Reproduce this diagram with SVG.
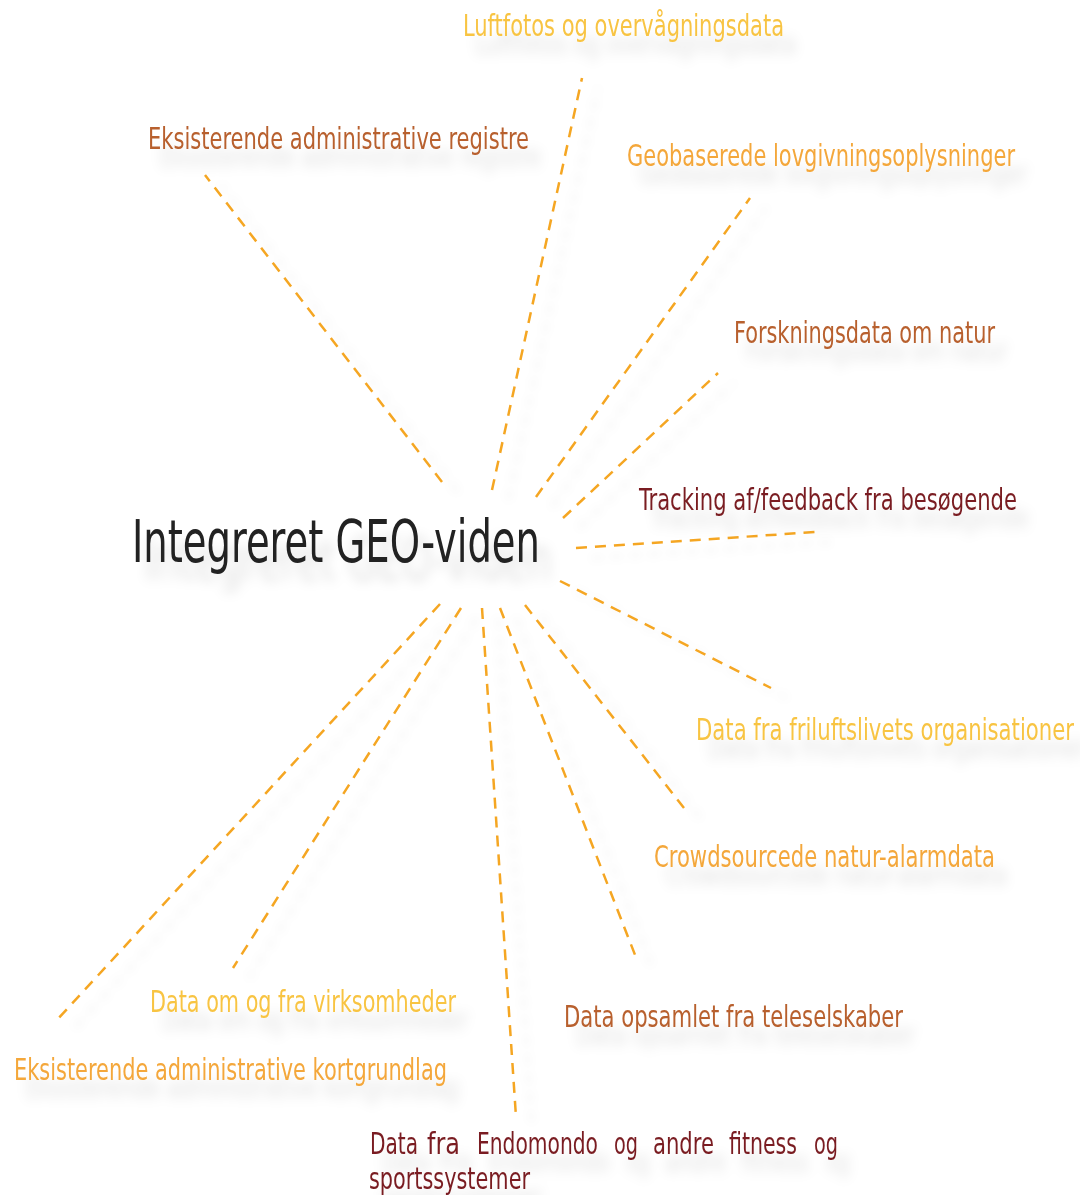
<svg xmlns="http://www.w3.org/2000/svg" width="1080" height="1195" viewBox="0 0 1080 1195">
<defs>
<filter id="sh" x="-20%" y="-50%" width="140%" height="250%">
<feGaussianBlur in="SourceAlpha" stdDeviation="6" result="b"/>
<feOffset in="b" dx="12" dy="18" result="o"/>
<feFlood flood-color="#000" flood-opacity="0.12"/>
<feComposite in2="o" operator="in" result="s"/>
<feMerge><feMergeNode in="s"/><feMergeNode in="SourceGraphic"/></feMerge>
</filter>
<filter id="shl" x="-50%" y="-20%" width="200%" height="140%">
<feGaussianBlur in="SourceAlpha" stdDeviation="5" result="b"/>
<feOffset in="b" dx="16" dy="10" result="o"/>
<feFlood flood-color="#000" flood-opacity="0.07"/>
<feComposite in2="o" operator="in" result="s"/>
<feMerge><feMergeNode in="s"/><feMergeNode in="SourceGraphic"/></feMerge>
</filter>
</defs>
<style>
text{font-family:"Liberation Sans Narrow","DejaVu Sans Condensed","Liberation Sans",sans-serif;font-size:30px}
.y{fill:#F8C443}.o{fill:#F4A73A}.b{fill:#B8602E}.r{fill:#7A1E22}
.c{fill:#222;font-size:58px}
.l line{stroke:#F5A623;stroke-width:2.5;stroke-dasharray:11 8;fill:none}
</style>
<rect width="1080" height="1195" fill="#fff"/>
<g id="connectors" class="l" filter="url(#shl)">
<line x1="442" y1="482" x2="205" y2="175"/>
<line x1="492" y1="490" x2="582" y2="78"/>
<line x1="536" y1="497" x2="750" y2="198"/>
<line x1="563" y1="518" x2="718" y2="373"/>
<line x1="576" y1="548" x2="816" y2="532"/>
<line x1="560" y1="581" x2="771" y2="688"/>
<line x1="525" y1="605" x2="684" y2="808"/>
<line x1="500" y1="608" x2="637" y2="960"/>
<line x1="482" y1="608" x2="516" y2="1117"/>
<line x1="461" y1="608" x2="233" y2="968"/>
<line x1="440" y1="604" x2="56" y2="1021"/>
</g>
<g id="center" filter="url(#sh)"><text class="c" x="132" y="562" textLength="408" lengthAdjust="spacingAndGlyphs">Integreret GEO-viden</text></g>
<g id="n1" filter="url(#sh)"><text class="y" x="463" y="36" textLength="321" lengthAdjust="spacingAndGlyphs">Luftfotos og overvågningsdata</text></g>
<g id="n2" filter="url(#sh)"><text class="b" x="148" y="149" textLength="381" lengthAdjust="spacingAndGlyphs">Eksisterende administrative registre</text></g>
<g id="n3" filter="url(#sh)"><text class="o" x="627" y="166" textLength="388" lengthAdjust="spacingAndGlyphs">Geobaserede lovgivningsoplysninger</text></g>
<g id="n4" filter="url(#sh)"><text class="b" x="734" y="343" textLength="261" lengthAdjust="spacingAndGlyphs">Forskningsdata om natur</text></g>
<g id="n5" filter="url(#sh)"><text class="r" x="639" y="510" textLength="378" lengthAdjust="spacingAndGlyphs">Tracking af/feedback fra besøgende</text></g>
<g id="n6" filter="url(#sh)"><text class="y" x="696" y="740" textLength="378" lengthAdjust="spacingAndGlyphs">Data fra friluftslivets organisationer</text></g>
<g id="n7" filter="url(#sh)"><text class="o" x="654" y="867" textLength="341" lengthAdjust="spacingAndGlyphs">Crowdsourcede natur-alarmdata</text></g>
<g id="n8" filter="url(#sh)"><text class="b" x="564" y="1027" textLength="339" lengthAdjust="spacingAndGlyphs">Data opsamlet fra teleselskaber</text></g>
<g id="n9" filter="url(#sh)"><text class="y" x="150" y="1012" textLength="306" lengthAdjust="spacingAndGlyphs">Data om og fra virksomheder</text></g>
<g id="n10" filter="url(#sh)"><text class="o" x="14" y="1080" textLength="433" lengthAdjust="spacingAndGlyphs">Eksisterende administrative kortgrundlag</text></g>
<g id="n11" filter="url(#sh)">
<text class="r" x="370" y="1154" textLength="48" lengthAdjust="spacingAndGlyphs">Data</text>
<text class="r" x="427" y="1154" textLength="33" lengthAdjust="spacingAndGlyphs">fra</text>
<text class="r" x="477" y="1154" textLength="121" lengthAdjust="spacingAndGlyphs">Endomondo</text>
<text class="r" x="614" y="1154" textLength="24" lengthAdjust="spacingAndGlyphs">og</text>
<text class="r" x="653" y="1154" textLength="61" lengthAdjust="spacingAndGlyphs">andre</text>
<text class="r" x="729" y="1154" textLength="68" lengthAdjust="spacingAndGlyphs">fitness</text>
<text class="r" x="814" y="1154" textLength="24" lengthAdjust="spacingAndGlyphs">og</text>
<text class="r" x="369" y="1189" textLength="161" lengthAdjust="spacingAndGlyphs">sportssystemer</text>
</g>
</svg>
